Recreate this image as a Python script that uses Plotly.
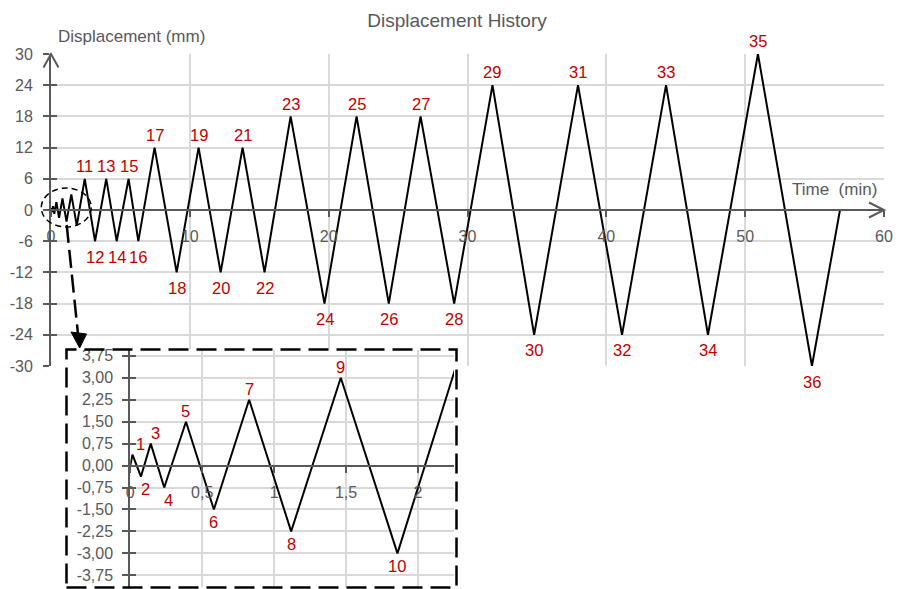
import plotly.graph_objects as go

# ---------------- data ----------------
time_min = [0, 0.015, 0.074, 0.142, 0.236, 0.387, 0.581, 0.826, 1.118, 1.463, 1.857,
            2.43, 3.17, 3.98, 4.73, 5.59, 6.29, 7.46, 9.05, 10.63, 12.22, 13.80, 15.38,
            17.26, 19.70, 22.01, 24.33, 26.62, 29.04, 31.80, 34.80, 37.96, 41.13, 44.30,
            47.32, 50.92, 54.81, 56.83]
disp_mm = [0, 0.375, -0.375, 0.75, -0.75, 1.5, -1.5, 2.25, -2.25, 3.0, -3.0,
           6, -6, 6, -6, 6, -6, 12, -12, 12, -12, 12, -12,
           18, -18, 18, -18, 18, -18, 24, -24, 24, -24, 24, -24, 30, -30, 0]
peak_labels = [""] + [str(n) for n in range(1, 37)] + [""]

main_xticks = [0, 10, 20, 30, 40, 50, 60]
main_xticktext = ["0", "10", "20", "30", "40", "50", "60"]
main_yticks = [-30, -24, -18, -12, -6, 0, 6, 12, 18, 24, 30]
main_yticktext = ["-30", "-24", "-18", "-12", "-6", "0", "6", "12", "18", "24", "30"]
inset_xticks = [0, 0.5, 1, 1.5, 2]
inset_xticktext = ["0", "0,5", "1", "1,5", "2"]
inset_yticks = [-3.75, -3, -2.25, -1.5, -0.75, 0, 0.75, 1.5, 2.25, 3, 3.75]
inset_yticktext = ["-3,75", "-3,00", "-2,25", "-1,50", "-0,75", "0,00",
                   "0,75", "1,50", "2,25", "3,00", "3,75"]

title_text = "Displacement History"
ytitle_text = "Displacement (mm)"
xtitle_text = "Time  (min)"

# ---------------- layout helpers ----------------
W, H = 898, 589
ML, MR, MT, MB = 51, 14, 54, 0
PW, PH = W - ML - MR, H - MT - MB


def px_x(p):
    return (p - ML) / PW


def px_y(p):
    return (H - MB - p) / PH


FONT = "Liberation Sans, Arial, Helvetica, sans-serif"
GRAY = "#595959"
GRID = "#d9d9d9"
RED = "#C00000"

main_xr = [0, 60]
main_yr = [-30, 30]
main_xdom = [0.0, 1.0]
main_ydom = [px_y(366), 1.0]
inset_xr = [0, 2.25]
inset_yr = [-4.15, 3.95]
inset_xdom = [px_x(130.3), px_x(454)]
inset_ydom = [px_y(587), px_y(350)]
box_xdom = [px_x(66), px_x(457)]
box_ydom = [px_y(588), px_y(349.5)]


def to_paper(v, rng, dom):
    return dom[0] + (v - rng[0]) / (rng[1] - rng[0]) * (dom[1] - dom[0])


def main_px(t, d):
    return to_paper(t, main_xr, main_xdom), to_paper(d, main_yr, main_ydom)


fig = go.Figure()

fig.add_trace(go.Scatter(x=time_min, y=disp_mm, mode="lines",
                         line=dict(color="black", width=2),
                         xaxis="x", yaxis="y", hoverinfo="skip", showlegend=False))
fig.add_trace(go.Scatter(x=[], y=[], xaxis="x2", yaxis="y2", showlegend=False, hoverinfo="skip"))
fig.add_trace(go.Scatter(x=time_min, y=disp_mm, mode="lines",
                         line=dict(color="black", width=2),
                         xaxis="x3", yaxis="y3", hoverinfo="skip", showlegend=False))
fig.add_trace(go.Scatter(x=[], y=[], xaxis="x", yaxis="y4", showlegend=False, hoverinfo="skip"))
fig.add_trace(go.Scatter(x=[], y=[], xaxis="x3", yaxis="y5", showlegend=False, hoverinfo="skip"))

tickfont = dict(family=FONT, size=16, color=GRAY)

common = dict(showline=True, linecolor=GRAY, linewidth=2, showgrid=True,
              gridcolor=GRID, gridwidth=1.5, zeroline=False, ticks="outside",
              ticklen=6, tickwidth=2, tickcolor=GRAY, tickfont=tickfont,
              tickmode="array", automargin=False, fixedrange=True)

fig.update_layout(
    width=W, height=H,
    margin=dict(l=ML, r=MR, t=MT, b=MB, autoexpand=False),
    plot_bgcolor="white", paper_bgcolor="white",
    showlegend=False,
    font=dict(family=FONT, color=GRAY),
    title=dict(text=title_text, x=px_x(457), xref="paper", xanchor="center",
               y=1 - 20.5 / H, yref="container", yanchor="middle",
               font=dict(family=FONT, size=19, color=GRAY)),
    xaxis=dict(common, range=main_xr, domain=main_xdom, tickvals=main_xticks,
               ticktext=main_xticktext, anchor="free",
               position=to_paper(0, main_yr, main_ydom), ticklabelstandoff=6),
    yaxis=dict(common, range=main_yr, domain=main_ydom, tickvals=main_yticks,
               ticktext=main_yticktext, anchor="x", ticklabelstandoff=7),
    yaxis4=dict(range=main_yr, overlaying="y", anchor="x", tickmode="array",
                tickvals=main_yticks, ticks="inside", ticklen=6, tickwidth=2,
                tickcolor=GRAY, showticklabels=False, showgrid=False,
                showline=False, zeroline=False, fixedrange=True),
    xaxis2=dict(domain=box_xdom, range=[0, 1], anchor="y2", visible=False, fixedrange=True),
    yaxis2=dict(domain=box_ydom, range=[0, 1], anchor="x2", visible=False, fixedrange=True),
    xaxis3=dict(common, range=inset_xr, domain=inset_xdom, tickvals=inset_xticks,
                ticktext=inset_xticktext, anchor="free",
                position=to_paper(0, inset_yr, inset_ydom), ticklabelstandoff=6),
    yaxis3=dict(common, range=inset_yr, domain=inset_ydom, tickvals=inset_yticks,
                ticktext=inset_yticktext, anchor="x3", ticklabelstandoff=6),
    yaxis5=dict(range=inset_yr, overlaying="y3", anchor="x3", tickmode="array",
                tickvals=inset_yticks, ticks="inside", ticklen=6, tickwidth=2,
                tickcolor=GRAY, showticklabels=False, showgrid=False,
                showline=False, zeroline=False, fixedrange=True),
)

annotations = [
    dict(text=ytitle_text, xref="paper", yref="paper", x=px_x(131.5), y=px_y(36),
         showarrow=False, xanchor="center", yanchor="middle",
         font=dict(family=FONT, size=17, color=GRAY)),
    dict(text=xtitle_text, xref="x", yref="y", x=56.4, y=3.9,
         showarrow=False, xanchor="center", yanchor="middle",
         font=dict(family=FONT, size=17, color=GRAY)),
]

label_nudge_x = {"1": 8, "2": 5, "3": 5, "4": 4}
for t, d, lab in zip(time_min, disp_mm, peak_labels):
    if not lab:
        continue
    n = int(lab)
    top = d > 0
    if n <= 10:
        xref, yref = "x3", "y3"
        ys = 10.5 if top else -12.5
    else:
        xref, yref = "x", "y"
        ys = 12.8 if top else -15.6
    annotations.append(dict(text=lab, x=t, y=d, xref=xref, yref=yref, showarrow=False,
                            xanchor="center", yanchor="middle", yshift=ys,
                            xshift=label_nudge_x.get(lab, 0),
                            font=dict(family=FONT, size=16.5, color=RED)))
fig.update_layout(annotations=annotations)

# decorative shapes in paper coords (not clipped by the plot area)
top_x, top_y = main_px(main_xr[0], main_yr[1])
end_x, end_y = main_px(main_xr[1], 0)
org_x, org_y = main_px(0, 0)
ell_x, ell_y = main_px(1.1, 0)
pix = dict(xref="paper", yref="paper", xsizemode="pixel", ysizemode="pixel")

shapes = [
    dict(pix, type="path", xanchor=top_x, yanchor=top_y,
         path="M -7.5,-13.5 L 0,0 L 7.5,-13.5", line=dict(color=GRAY, width=2)),
    dict(pix, type="path", xanchor=end_x, yanchor=end_y,
         path="M -15,7.5 L 0,0 L -15,-7.5", line=dict(color=GRAY, width=2)),
    dict(pix, type="circle", xanchor=ell_x, yanchor=ell_y, x0=-25, x1=25, y0=-17, y1=22,
         line=dict(color="black", width=1.5, dash="6px,4px")),
    dict(pix, type="line", xanchor=org_x, yanchor=org_y, x0=15.7, y0=-15, x1=27, y1=-124,
         line=dict(color="black", width=2.5, dash="18px,7px")),
    dict(pix, type="path", xanchor=org_x, yanchor=org_y,
         path="M 20,-122 L 35.5,-124 L 28.7,-138 Z",
         fillcolor="black", line=dict(color="black", width=1)),
    dict(type="rect", xref="paper", yref="paper",
         x0=px_x(66.5), x1=px_x(456.5), y0=px_y(587.5), y1=px_y(349.5),
         line=dict(color="black", width=2.5, dash="20px,8px"), layer="above"),
]
fig.update_layout(shapes=shapes)

fig.write_html("out.html",
               config={"displayModeBar": False},
               post_script="document.body.style.margin='0';document.body.style.overflow='hidden';")
